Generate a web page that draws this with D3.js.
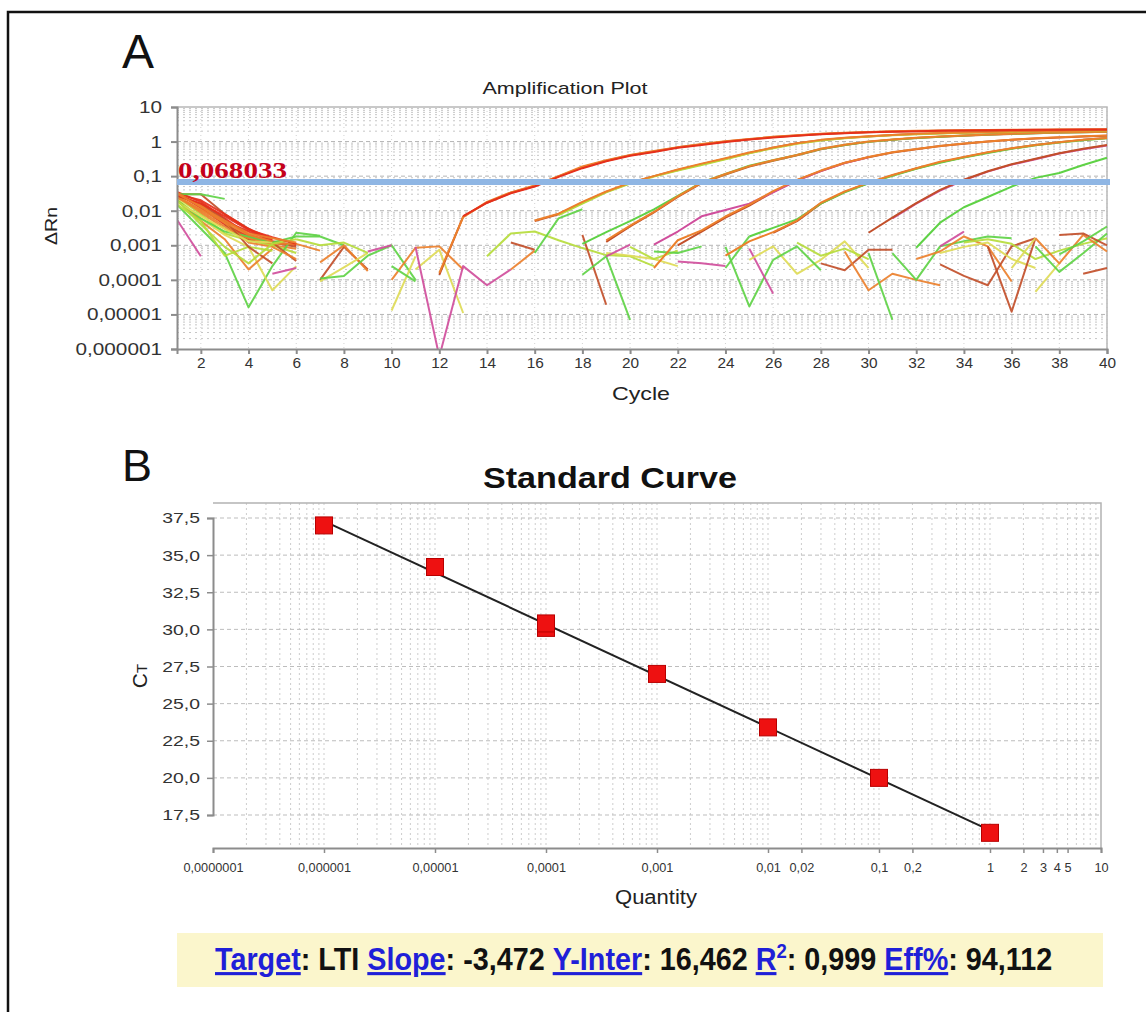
<!DOCTYPE html>
<html>
<head>
<meta charset="utf-8">
<script src="https://cdn.jsdelivr.net/npm/d3@7"></script>
<style>
  body { margin: 0; background: #fff; }
  svg { display: block; }
</style>
</head>
<body>
<svg id="fig" width="1146" height="1012" font-family="Liberation Sans, Arial, sans-serif"></svg>
<script>
// ---------------- Amplification plot data (ΔRn per cycle) ----------------
const ampYTicks = [10, 1, 0.1, 0.01, 0.001, 0.0001, 0.00001, 0.000001];
const ampXTicks = d3.range(2, 41, 2);
const thresholdValue = 0.068033;

// Amplified wells, one array per replicate; first cycle given separately
const dil1Start = [12, 12, 13];
const dil1a = [0.00014, 0.0068, 0.017, 0.033, 0.052, 0.098, 0.18, 0.28, 0.4, 0.52, 0.68, 0.83, 1.0, 1.17, 1.35, 1.51, 1.66, 1.78, 1.86, 1.95, 2.0, 2.04, 2.09, 2.09, 2.14, 2.14, 2.19, 2.19, 2.24];
const dil1b = [0.00016, 0.0065, 0.018, 0.034, 0.054, 0.1, 0.19, 0.29, 0.41, 0.53, 0.69, 0.85, 1.02, 1.19, 1.37, 1.53, 1.68, 1.8, 1.9, 1.98, 2.04, 2.08, 2.12, 2.15, 2.18, 2.2, 2.22, 2.24, 2.26];
const dil1c = [0.007, 0.017, 0.032, 0.05, 0.095, 0.17, 0.27, 0.39, 0.5, 0.66, 0.8, 0.97, 1.14, 1.32, 1.48, 1.62, 1.75, 1.85, 1.93, 2.0, 2.05, 2.1, 2.13, 2.16, 2.19, 2.21, 2.23, 2.25];

const dil2Start = [16, 16, 17];
const dil2a = [0.005, 0.0079, 0.017, 0.035, 0.063, 0.1, 0.15, 0.22, 0.32, 0.47, 0.66, 0.89, 1.1, 1.26, 1.41, 1.55, 1.66, 1.74, 1.82, 1.86, 1.91, 1.95, 2.0, 2.04, 2.09];
const dil2b = [0.0052, 0.0082, 0.018, 0.036, 0.065, 0.1, 0.155, 0.23, 0.33, 0.48, 0.67, 0.9, 1.12, 1.28, 1.43, 1.56, 1.68, 1.76, 1.84, 1.89, 1.94, 1.98, 2.02, 2.06, 2.1];
const dil2c = [0.0075, 0.016, 0.034, 0.061, 0.098, 0.145, 0.21, 0.31, 0.46, 0.64, 0.87, 1.08, 1.24, 1.39, 1.53, 1.64, 1.72, 1.8, 1.85, 1.9, 1.94, 1.98, 2.02, 2.06];

const dil3Start = [19, 18, 19];
const dil3a = [0.00126, 0.0035, 0.0089, 0.025, 0.063, 0.112, 0.19, 0.28, 0.4, 0.6, 0.79, 0.98, 1.12, 1.26, 1.38, 1.48, 1.58, 1.66, 1.74, 1.82, 1.86, 1.91];
const dil3b = [0.0011, 0.0024, 0.005, 0.011, 0.027, 0.066, 0.115, 0.2, 0.29, 0.41, 0.61, 0.8, 0.99, 1.13, 1.27, 1.39, 1.49, 1.59, 1.67, 1.75, 1.83, 1.87, 1.92];
const dil3c = [0.0014, 0.0037, 0.0092, 0.026, 0.065, 0.115, 0.195, 0.29, 0.41, 0.62, 0.81, 1.0, 1.14, 1.28, 1.4, 1.5, 1.6, 1.68, 1.76, 1.84, 1.88, 1.93];

const dil4Start = [22, 21, 21];
const dil4a = [0.001, 0.0025, 0.0063, 0.014, 0.035, 0.076, 0.14, 0.24, 0.35, 0.48, 0.6, 0.74, 0.87, 1.0, 1.12, 1.23, 1.32, 1.41, 1.48];
const dil4b = [0.00022, 0.0014, 0.0027, 0.0068, 0.015, 0.037, 0.078, 0.145, 0.245, 0.36, 0.49, 0.61, 0.75, 0.88, 1.01, 1.13, 1.24, 1.33, 1.42, 1.49];
const dil4c = [0.00105, 0.0025, 0.0069, 0.0105, 0.016, 0.034, 0.074, 0.14, 0.24, 0.35];

const dil5Start = [26, 24, 25];
const dil5a = [0.0023, 0.005, 0.016, 0.035, 0.063, 0.105, 0.166, 0.25, 0.35, 0.48, 0.63, 0.79, 0.95, 1.12, 1.26];
const dil5b = [0.0005, 0.0013, 0.0024, 0.0052, 0.017, 0.036, 0.065, 0.108, 0.17, 0.26, 0.36, 0.49, 0.64, 0.8, 0.96, 1.13, 1.27];
const dil5c = [0.0018, 0.0032, 0.0056, 0.016, 0.034, 0.062, 0.103, 0.163, 0.245, 0.345, 0.47, 0.62, 0.78, 0.94, 1.1, 1.24];

const dil6Start = [30, 31];
const dil6a = [0.0023, 0.0063, 0.0166, 0.04, 0.079, 0.138, 0.22, 0.32, 0.46, 0.62, 0.79];
const dil6b = [0.006, 0.016, 0.038, 0.077, 0.135, 0.215, 0.31, 0.45, 0.6, 0.77];

const dil7Start = [32];
const dil7a = [0.00085, 0.0045, 0.0126, 0.025, 0.05, 0.089, 0.123, 0.21, 0.34];

// Baseline-phase readings: [first cycle, colour key, ΔRn values]
const baselineTraces = [
  [1, "rd", [0.032, 0.012, 0.004, 0.0018, 0.0012]],
  [1, "rd", [0.035, 0.018, 0.006, 0.002, 0.0013, 0.001]],
  [1, "or", [0.028, 0.01, 0.0035, 0.0015, 0.001, 0.0008]],
  [1, "br", [0.03, 0.03, 0.008, 0.003, 0.0012, 0.0009]],
  [1, "gr", [0.03, 0.03, 0.022]],
  [1, "yg", [0.025, 0.008, 0.0022, 0.0014, 0.001, 0.0006]],
  [1, "gr", [0.015, 0.003, 0.0006, 0.000016, 0.00025, 0.0023, 0.0019]],
  [1, "mg", [0.0055, 0.00048]],
  [1, "ye", [0.022, 0.006, 0.002, 0.0009, 0.00005, 0.00025]],
  [1, "or", [0.02, 0.005, 0.0015, 0.0002, 0.0008]],
  [5, "mg", [0.00015, 0.00022]],
  [3, "br", [0.004, 0.0015, 0.0012, 0.00035]],
  [1, "yg", [0.015, 0.005, 0.0005, 0.0009, 0.0007]],
  [1, "or", [0.026, 0.009, 0.003, 0.0016, 0.0011, 0.0011, 0.0007]],
  [1, "gr", [0.02, 0.006, 0.0025, 0.0018, 0.0012, 0.0018, 0.0018, 0.001]],
  [1, "rd", [0.03, 0.014, 0.005, 0.0025, 0.0014]],
  [1, "or", [0.024, 0.011, 0.0045, 0.0012, 0.0009, 0.0004]],
  [1, "br", [0.027, 0.016, 0.0055, 0.0009, 0.0003]],
  [1, "ye", [0.018, 0.007, 0.003, 0.0013, 0.0012]],
  [1, "yg", [0.02, 0.004, 0.0009, 0.0003, 0.0011, 0.0015]],
  [1, "rd", [0.03, 0.02, 0.008, 0.003, 0.0015]],
  [1, "or", [0.033, 0.014, 0.0045, 0.002, 0.0013]],
  [1, "rd", [0.028, 0.016, 0.007, 0.0028, 0.0017, 0.0011]],
  [1, "or", [0.031, 0.013, 0.0052, 0.0022, 0.0016, 0.0012]],
  [7, "br", [0.0001, 0.0009, 0.0002]],
  [7, "or", [0.00032, 0.001, 0.00018]],
  [7, "ye", [0.00009, 0.00023, 0.0006]],
  [6, "yg", [0.0015, 0.001, 0.0012, 0.0006]],
  [7, "gr", [0.00011, 0.00013, 0.0005, 0.001, 0.0001]],
  [9, "mg", [0.00066, 0.001]],
  [10, "ye", [0.000013, 0.00048]],
  [10, "or", [0.0001, 0.00085, 0.00093, 0.0002]],
  [11, "ye", [0.0002, 0.00074, 0.000011]],
  [11, "mg", [0.0009, 0.0000006, 0.00025, 0.00007, 0.0002]],
  [10, "gr", [0.00025, 0.00009]],
  [14, "yg", [0.00048, 0.0022, 0.0025, 0.0014, 0.00083, 0.00052, 0.00048, 0.00025]],
  [15, "br", [0.0012, 0.00074]],
  [15, "or", [0.0002, 0.0007]],
  [16, "gr", [0.0006, 0.006, 0.011]],
  [18, "br", [0.002, 0.000019]],
  [18, "gr", [0.00014, 0.00048, 0.000007]],
  [19, "ye", [0.0006, 0.0005, 0.0004, 0.00025]],
  [19, "mg", [0.00048, 0.00105]],
  [20, "yg", [0.0009, 0.0004, 0.0007]],
  [21, "gr", [0.00066, 0.0006, 0.00093]],
  [22, "mg", [0.00034, 0.0003, 0.00025]],
  [24, "gr", [0.0009, 0.000017, 0.00038]],
  [25, "mg", [0.0008, 0.00004]],
  [24, "gr", [0.00022, 0.0018]],
  [25, "ye", [0.00038, 0.00093, 0.00015, 0.00038, 0.0013, 0.00022]],
  [26, "gr", [0.00038, 0.00093, 0.00019]],
  [27, "yg", [0.0012, 0.0005, 0.0008, 0.0004]],
  [28, "br", [0.0003, 0.00019, 0.00074, 0.00074]],
  [29, "or", [0.00066, 0.00005, 0.00015, 0.0001, 0.00007]],
  [30, "gr", [0.00059, 0.000007]],
  [31, "gr", [0.00059, 0.0001, 0.00093, 0.0013, 0.0018, 0.0016]],
  [32, "or", [0.0004, 0.00066, 0.0018, 0.00093, 0.00009]],
  [33, "br", [0.00028, 0.00013, 0.00007, 0.00093, 0.0016]],
  [33, "ye", [0.0006, 0.0009, 0.0012, 0.0004, 0.00022]],
  [33, "mg", [0.00093, 0.0025]],
  [34, "yg", [0.0012, 0.0015, 0.0011, 0.0004, 0.0007, 0.0011, 0.0016]],
  [35, "br", [0.00093, 0.000012, 0.0016]],
  [36, "ye", [0.00022, 0.0016]],
  [37, "ye", [0.000045, 0.0003]],
  [37, "gr", [0.00093, 0.00017, 0.00059, 0.0022]],
  [37, "or", [0.0016, 0.0003, 0.002, 0.00066]],
  [38, "br", [0.002, 0.0022, 0.001]],
  [39, "br", [0.00015, 0.00022]],
  [38, "gr", [0.00055, 0.0013, 0.0035]]
];

// ---------------- Standard curve data ----------------
const stdQuantity = [0.000001, 0.00001, 0.0001, 0.0001, 0.001, 0.01, 0.1, 1];
const stdCt = [37.0, 34.2, 30.1, 30.4, 27.0, 23.4, 20.0, 16.3];
const stdSlope = -3.472;
const stdIntercept = 16.462;
const stdR2 = 0.999;
const stdEff = 94.112;
const stdYTicks = [17.5, 20, 22.5, 25, 27.5, 30, 32.5, 35, 37.5];
const stdXTicks = [1e-7, 1e-6, 1e-5, 1e-4, 1e-3, 0.01, 0.02, 0.1, 0.2, 1, 2, 3, 4, 5, 10];

// ---------------- helpers ----------------
const colors = {
  br: "#c24f2a", or: "#ec802c", rd: "#e6301b", yg: "#b6dc3c",
  gr: "#5fd246", ye: "#dedb57", mg: "#d04e9c"
};
const comma = (v, d) => v.toFixed(d).replace(".", ",");
function plainNum(v) {
  if (v >= 1) return String(v);
  const d = Math.round(-Math.log10(v));
  return v.toFixed(d).replace(".", ",");
}
function stretch(sel, k) {
  sel.each(function () {
    const w = this.getComputedTextLength();
    d3.select(this).attr("textLength", w * k).attr("lengthAdjust", "spacingAndGlyphs");
  });
}

const svg = d3.select("#fig");

// outer frame (open on the right and bottom)
svg.append("path")
  .attr("d", "M8,1012V12H1146")
  .attr("fill", "none").attr("stroke", "#111").attr("stroke-width", 2.5);

// ================= Panel A: amplification plot =================
const A = { left: 177, right: 1107, top: 107, bottom: 349 };
const xA = d3.scaleLinear().domain([1, 40]).range([A.left, A.right]);
const yA = d3.scaleLog().domain([1e-6, 10]).range([A.bottom, A.top]);

svg.append("text").attr("x", 122).attr("y", 68)
  .attr("font-size", 48).attr("fill", "#111").text("A");

svg.append("text").attr("x", 565).attr("y", 94).attr("text-anchor", "middle")
  .attr("font-size", 17).attr("fill", "#222")
  .attr("textLength", 165).attr("lengthAdjust", "spacingAndGlyphs")
  .text("Amplification Plot");

const gA = svg.append("g");

// grid: horizontal lines at every log step, vertical dotted lines at even cycles
const minorA = [];
for (let e = -6; e < 1; e++) for (let k = 2; k <= 9; k++) minorA.push(k * Math.pow(10, e));
gA.append("g").selectAll("line").data(minorA).join("line")
  .attr("x1", A.left).attr("x2", A.right)
  .attr("y1", d => yA(d)).attr("y2", d => yA(d))
  .attr("stroke", "#c6c6c6").attr("stroke-width", 1).attr("stroke-dasharray", "2,4");
gA.append("g").selectAll("line").data(ampYTicks.slice(1, -1)).join("line")
  .attr("x1", A.left).attr("x2", A.right)
  .attr("y1", d => yA(d)).attr("y2", d => yA(d))
  .attr("stroke", "#b4b4b4").attr("stroke-width", 1).attr("stroke-dasharray", "4,3");
gA.append("g").selectAll("line").data(ampXTicks).join("line")
  .attr("x1", d => xA(d)).attr("x2", d => xA(d))
  .attr("y1", A.top).attr("y2", A.bottom)
  .attr("stroke", "#d2d2d2").attr("stroke-width", 1).attr("stroke-dasharray", "1,3");

// top / right border
gA.append("path").attr("d", `M${A.left},${A.top}H${A.right}V${A.bottom}`)
  .attr("fill", "none").attr("stroke", "#b8b8b8").attr("stroke-width", 1.5);

// traces
svg.append("clipPath").attr("id", "clipA").append("rect")
  .attr("x", A.left).attr("y", A.top - 2).attr("width", A.right - A.left + 1).attr("height", A.bottom - A.top + 2);
const lineA = d3.line().x(d => xA(d[0])).y(d => yA(d[1]));
const toPts = (start, vals) => vals.map((v, i) => [start + i, v]);
const traces = gA.append("g").attr("clip-path", "url(#clipA)")
  .attr("fill", "none").attr("stroke-width", 2).attr("stroke-linejoin", "round");

baselineTraces.forEach(([s, c, vals]) => {
  traces.append("path").attr("d", lineA(toPts(s, vals))).attr("stroke", colors[c]).attr("opacity", 0.92);
});

// amplified wells: replicates drawn in layers
const amplified = [
  [dil7Start[0], "gr", dil7a],
  [dil6Start[1], "mg", dil6b], [dil6Start[0], "br", dil6a],
  [dil5Start[0], "br", dil5a], [dil5Start[2], "gr", dil5c], [dil5Start[1], "or", dil5b],
  [dil4Start[0], "br", dil4a], [dil4Start[2], "mg", dil4c], [dil4Start[1], "or", dil4b],
  [dil3Start[0], "br", dil3a], [dil3Start[1], "gr", dil3b], [dil3Start[2], "or", dil3c],
  [dil2Start[0], "br", dil2a], [dil2Start[2], "yg", dil2c], [dil2Start[1], "or", dil2b],
  [dil1Start[0], "br", dil1a], [dil1Start[1], "or", dil1b], [dil1Start[2], "rd", dil1c]
];
amplified.forEach(([s, c, vals]) => {
  traces.append("path").attr("d", lineA(toPts(s, vals))).attr("stroke", colors[c]);
});

// axes
const axLA = d3.axisLeft(yA).tickValues(ampYTicks).tickSize(6).tickPadding(9).tickFormat(plainNum);
const gyA = svg.append("g").attr("transform", `translate(${A.left},0)`).call(axLA);
const axBA = d3.axisBottom(xA).tickValues(ampXTicks).tickSize(5).tickPadding(4).tickFormat(d3.format("d"));
const gxA = svg.append("g").attr("transform", `translate(0,${A.bottom})`).call(axBA);
[gyA, gxA].forEach(g => {
  g.attr("font-family", null);
  g.select(".domain").attr("stroke", "#8c8c8c").attr("stroke-width", 2);
  g.selectAll(".tick line").attr("stroke", "#8c8c8c").attr("stroke-width", 2);
  g.selectAll(".tick text").attr("fill", "#333");
});
gyA.selectAll(".tick text").attr("font-size", 17).call(stretch, 1.22);
gxA.selectAll(".tick text").attr("font-size", 14).call(stretch, 1.1);

// threshold
const yThr = yA(thresholdValue);
svg.append("line").attr("x1", A.left).attr("x2", A.right + 3)
  .attr("y1", yThr).attr("y2", yThr)
  .attr("stroke", "#8fb6e4").attr("stroke-width", 6);
svg.append("text").attr("x", A.left + 1).attr("y", yThr - 4)
  .style("font-family", "'Liberation Serif', 'Times New Roman', serif").attr("font-weight", "bold")
  .attr("font-size", 24).attr("fill", "#c4001a")
  .attr("textLength", 109).attr("lengthAdjust", "spacingAndGlyphs")
  .text(comma(thresholdValue, 6));

svg.append("text").attr("transform", `translate(57,226) rotate(-90)`).attr("text-anchor", "middle")
  .attr("font-size", 17).attr("fill", "#222")
  .attr("textLength", 38).attr("lengthAdjust", "spacingAndGlyphs").text("ΔRn");
svg.append("text").attr("x", 641).attr("y", 400).attr("text-anchor", "middle")
  .attr("font-size", 19).attr("fill", "#222")
  .attr("textLength", 58).attr("lengthAdjust", "spacingAndGlyphs").text("Cycle");

// ================= Panel B: standard curve =================
const B = { left: 213, right: 1101, top: 503, bottom: 848 };
const xB = d3.scaleLog().domain([1e-7, 10]).range([B.left, B.right]);
const yB = d3.scaleLinear().domain([17.5, 37.5]).range([815, 518]);

svg.append("text").attr("x", 122).attr("y", 481)
  .attr("font-size", 45).attr("fill", "#111").text("B");

svg.append("text").attr("x", 610).attr("y", 488).attr("text-anchor", "middle")
  .attr("font-size", 30).attr("font-weight", "bold").attr("fill", "#111")
  .attr("textLength", 254).attr("lengthAdjust", "spacingAndGlyphs")
  .text("Standard Curve");

const gB = svg.append("g");
const minorB = [];
for (let e = -7; e < 1; e++) for (let k = 1; k <= 9; k++) minorB.push(k * Math.pow(10, e));
gB.append("g").selectAll("line").data(minorB.filter(d => d > 1.5e-7)).join("line")
  .attr("x1", d => xB(d)).attr("x2", d => xB(d))
  .attr("y1", B.top).attr("y2", B.bottom)
  .attr("stroke", "#cdcdcd").attr("stroke-width", 1).attr("stroke-dasharray", "2,3");
gB.append("g").selectAll("line").data(stdYTicks).join("line")
  .attr("x1", B.left).attr("x2", B.right)
  .attr("y1", d => yB(d)).attr("y2", d => yB(d))
  .attr("stroke", "#bdbdbd").attr("stroke-width", 1).attr("stroke-dasharray", "4,3");
gB.append("path").attr("d", `M${B.left},${B.top}H${B.right}V${B.bottom}`)
  .attr("fill", "none").attr("stroke", "#b3b3b3").attr("stroke-width", 1.5);

// regression line Ct = intercept + slope * log10(quantity)
const fitQ = [d3.min(stdQuantity), d3.max(stdQuantity)];
svg.append("path")
  .attr("d", d3.line().x(q => xB(q)).y(q => yB(stdIntercept + stdSlope * Math.log10(q)))(fitQ))
  .attr("fill", "none").attr("stroke", "#222").attr("stroke-width", 2);

svg.append("g").selectAll("rect").data(stdQuantity.map((q, i) => [q, stdCt[i]])).join("rect")
  .attr("x", d => xB(d[0]) - 8.5).attr("y", d => yB(d[1]) - 8.5)
  .attr("width", 17).attr("height", 17)
  .attr("fill", "#ee1111").attr("stroke", "#b80000").attr("stroke-width", 1);

const gyB = svg.append("g").attr("transform", `translate(${B.left},0)`)
  .call(d3.axisLeft(yB).tickValues(stdYTicks).tickSize(6).tickPadding(7).tickFormat(d => comma(d, 1)));
const gxB = svg.append("g").attr("transform", `translate(0,${B.bottom})`)
  .call(d3.axisBottom(xB).tickValues(stdXTicks).tickSize(5).tickPadding(10).tickFormat(plainNum));
[gyB, gxB].forEach(g => {
  g.attr("font-family", null);
  g.select(".domain").attr("stroke", "#8c8c8c").attr("stroke-width", 2);
  g.selectAll(".tick line").attr("stroke", "#8c8c8c").attr("stroke-width", 1.5);
  g.selectAll(".tick text").attr("fill", "#333");
});
gyB.selectAll(".tick text").attr("font-size", 15.5).call(stretch, 1.25);
gxB.selectAll(".tick text").attr("font-size", 12).call(stretch, 1.06);

const ctLabel = svg.append("text").attr("transform", "translate(147,676) rotate(-90)")
  .attr("text-anchor", "middle").attr("fill", "#222");
ctLabel.append("tspan").attr("font-size", 21).text("C");
ctLabel.append("tspan").attr("font-size", 15).text("T");

svg.append("text").attr("x", 656).attr("y", 904).attr("text-anchor", "middle")
  .attr("font-size", 20).attr("fill", "#222")
  .attr("textLength", 82).attr("lengthAdjust", "spacingAndGlyphs").text("Quantity");

// ---------------- summary box ----------------
svg.append("rect").attr("x", 177).attr("y", 933).attr("width", 926).attr("height", 54)
  .attr("fill", "#fbf6cc");
const infoG = svg.append("g");
const info = infoG.append("text").attr("x", 0).attr("y", 0)
  .attr("font-size", 31).attr("font-weight", "bold").attr("fill", "#111");
const parts = [
  ["Target", true], [": LTI ", false],
  ["Slope", true], [": " + comma(stdSlope, 3) + " ", false],
  ["Y-Inter", true], [": " + comma(stdIntercept, 3) + " ", false],
  ["R", true], ["2", "sup"], [": " + comma(stdR2, 3) + " ", false],
  ["Eff%", true], [": " + comma(stdEff, 3), false]
];
parts.forEach(([t, kind]) => {
  const ts = info.append("tspan").text(t);
  if (kind === true) ts.attr("fill", "#1f1fd8").attr("text-decoration", "underline");
  if (kind === "sup") ts.attr("fill", "#1f1fd8").attr("font-size", 20).attr("dy", -12);
  if (kind === false && t.startsWith(": 0")) ts.attr("dy", 12);
});
const infoW = info.node().getBBox().width;
infoG.attr("transform", `translate(215,970) scale(${837 / infoW},1)`);
</script>
</body>
</html>
